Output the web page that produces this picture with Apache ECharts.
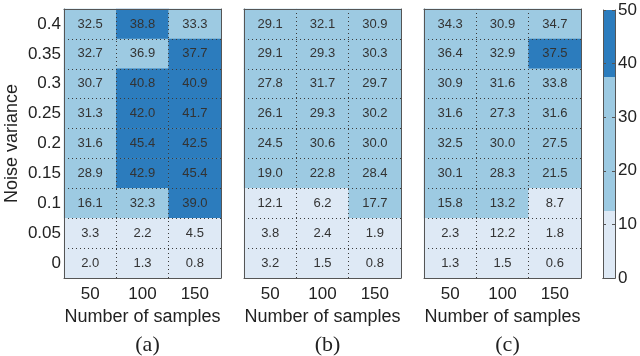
<!DOCTYPE html>
<html>
<head>
<meta charset="utf-8">
<script src="https://cdn.jsdelivr.net/npm/echarts@6/dist/echarts.min.js"></script>
<style>
  html, body { margin: 0; padding: 0; background: #fff; }
  #chart { width: 640px; height: 356px; }
</style>
</head>
<body>
<div id="chart"></div>
<script>
const samples = ['50', '100', '150']
const noise = ['0', '0.05', '0.1', '0.15', '0.2', '0.25', '0.3', '0.35', '0.4']

// rows listed top (0.4) to bottom (0), columns 50 / 100 / 150
const panelA = [
  [32.5, 38.8, 33.3],
  [32.7, 36.9, 37.7],
  [30.7, 40.8, 40.9],
  [31.3, 42.0, 41.7],
  [31.6, 45.4, 42.5],
  [28.9, 42.9, 45.4],
  [16.1, 32.3, 39.0],
  [3.3, 2.2, 4.5],
  [2.0, 1.3, 0.8]
]
const panelB = [
  [29.1, 32.1, 30.9],
  [29.1, 29.3, 30.3],
  [27.8, 31.7, 29.7],
  [26.1, 29.3, 30.2],
  [24.5, 30.6, 30.0],
  [19.0, 22.8, 28.4],
  [12.1, 6.2, 17.7],
  [3.8, 2.4, 1.9],
  [3.2, 1.5, 0.8]
]
const panelC = [
  [34.3, 30.9, 34.7],
  [36.4, 32.9, 37.5],
  [30.9, 31.6, 33.8],
  [31.6, 27.3, 31.6],
  [32.5, 30.0, 27.5],
  [30.1, 28.3, 21.5],
  [15.8, 13.2, 8.7],
  [2.3, 12.2, 1.8],
  [1.3, 1.5, 0.6]
]
const captions = ['(a)', '(b)', '(c)']
const levels = [0, 12.5, 37.5, 50]
const levelColors = ['#dee9f5', '#9dcae2', '#2c7cbd']

const panels = [panelA, panelB, panelC]
const lefts = [64, 244, 424]
const plotW = 157
const plotTop = 9
const plotH = 269
const font = 'Liberation Sans, Arial, sans-serif'
const edge = '#555'
const dots = { color: '#3a3a3a', type: [1, 3], width: 1 }

const toCells = rows => {
  const out = []
  rows.forEach((row, r) => {
    row.forEach((v, c) => out.push([c, noise.length - 1 - r, v]))
  })
  return out
}

const grid = []
const xAxis = []
const yAxis = []
const series = []
const title = []

panels.forEach((p, i) => {
  grid.push({ left: lefts[i], top: plotTop, width: plotW, height: plotH })
  // bottom axis with labels and dotted grid
  xAxis.push({
    type: 'category', gridIndex: i, data: samples, position: 'bottom', z: 5,
    axisLine: { lineStyle: { color: edge, width: 1 } },
    axisTick: { inside: true, alignWithLabel: true, length: 3, lineStyle: { color: edge } },
    axisLabel: { color: '#222', fontSize: 17, fontFamily: font, margin: 8 },
    splitLine: { show: true, lineStyle: dots },
    name: 'Number of samples', nameLocation: 'middle', nameGap: 27,
    nameTextStyle: { color: '#222', fontSize: 18, fontFamily: font }
  })
  // top edge of the box
  xAxis.push({
    type: 'category', gridIndex: i, data: samples, position: 'top', z: 5,
    axisLine: { lineStyle: { color: edge, width: 1 } },
    axisTick: { inside: true, alignWithLabel: true, length: 3, lineStyle: { color: edge } },
    axisLabel: { show: false }
  })
  yAxis.push({
    type: 'category', gridIndex: i, data: noise, position: 'left', z: 5,
    axisLine: { lineStyle: { color: edge, width: 1 } },
    axisTick: { inside: false, alignWithLabel: true, length: 3, lineStyle: { color: edge } },
    axisLabel: { show: i === 0, color: '#222', fontSize: 17, fontFamily: font, margin: 3 },
    splitLine: { show: true, lineStyle: dots },
    name: i === 0 ? 'Noise variance' : '', nameLocation: 'middle', nameGap: 43,
    nameTextStyle: { color: '#222', fontSize: 18, fontFamily: font }
  })
  yAxis.push({
    type: 'category', gridIndex: i, data: noise, position: 'right', z: 5,
    axisLine: { lineStyle: { color: edge, width: 1 } },
    axisTick: { inside: true, alignWithLabel: true, length: 3, lineStyle: { color: edge } },
    axisLabel: { show: false }
  })
  series.push({
    type: 'heatmap',
    xAxisIndex: i * 2,
    yAxisIndex: i * 2,
    data: toCells(p),
    label: {
      show: true, color: '#333', fontSize: 13, fontFamily: font,
      formatter: d => d.value[2].toFixed(1)
    },
    itemStyle: { borderWidth: 0 },
    emphasis: { disabled: true }
  })
  title.push({
    text: captions[i], left: lefts[i] + plotW / 2, top: 329, textAlign: 'center',
    textStyle: { color: '#222', fontSize: 22, fontWeight: 'normal', fontFamily: 'Liberation Serif, Times New Roman, serif' }
  })
})

// colorbar drawn as stacked bars on a value axis
const cb = panels.length
grid.push({ left: 603, top: 10, width: 12, height: 268 })
xAxis.push({
  type: 'category', gridIndex: cb, data: [''], position: 'bottom', z: 5,
  axisLine: { lineStyle: { color: edge } }, axisTick: { show: false }, axisLabel: { show: false }
})
xAxis.push({
  type: 'category', gridIndex: cb, data: [''], position: 'top', z: 5,
  axisLine: { lineStyle: { color: edge } }, axisTick: { show: false }, axisLabel: { show: false }
})
yAxis.push({
  type: 'value', gridIndex: cb, min: 0, max: 50, interval: 10, position: 'right', z: 5,
  axisLine: { show: true, lineStyle: { color: edge } },
  axisTick: { show: true, inside: true, length: 3, lineStyle: { color: edge } },
  axisLabel: { color: '#222', fontSize: 17, fontFamily: font, margin: 3 },
  splitLine: { show: false }
})
yAxis.push({
  type: 'value', gridIndex: cb, min: 0, max: 50, interval: 10, position: 'left', z: 5,
  axisLine: { show: true, lineStyle: { color: edge } },
  axisTick: { show: true, inside: true, length: 3, lineStyle: { color: edge } },
  axisLabel: { show: false },
  splitLine: { show: false }
})
levelColors.forEach((col, k) => {
  series.push({
    type: 'bar', xAxisIndex: cb * 2, yAxisIndex: cb * 2, stack: 'cb',
    data: [levels[k + 1] - levels[k]], barWidth: '100%',
    itemStyle: { color: col }, silent: true
  })
})

const option = {
  animation: false,
  title,
  grid,
  xAxis,
  yAxis,
  visualMap: {
    type: 'piecewise', show: false, seriesIndex: [0, 1, 2],
    pieces: levelColors.map((col, k) => ({ gte: levels[k], lt: levels[k + 1], color: col }))
  },
  series
}

const chart = echarts.init(document.getElementById('chart'))
chart.setOption(option)
</script>
</body>
</html>
